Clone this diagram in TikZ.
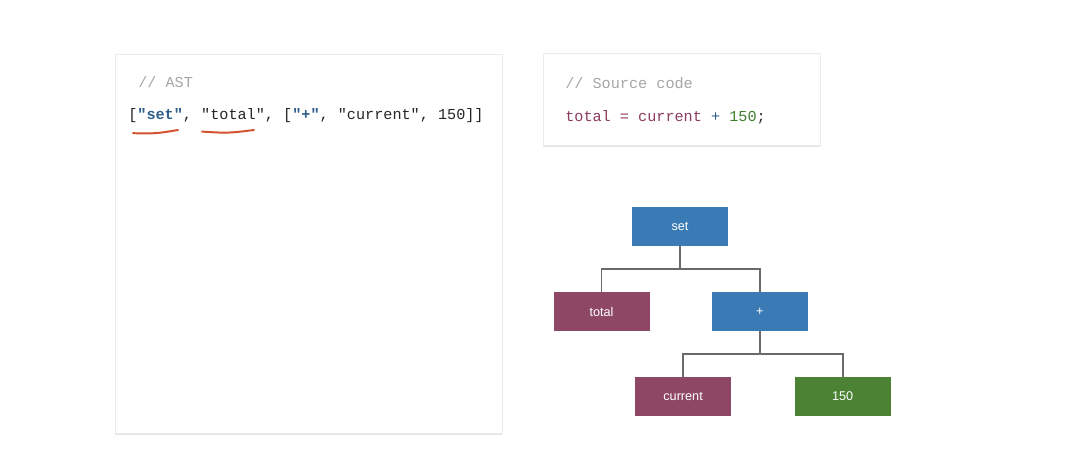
\documentclass[tikz,border=0pt]{standalone}
\usepackage{fontspec}
\setsansfont{Liberation Sans}
\setmonofont{Liberation Mono}
\usepackage{tikz}
\usetikzlibrary{shadows}

\definecolor{astblue}{HTML}{3B7BB5}
\definecolor{astred}{HTML}{8E4866}
\definecolor{astgreen}{HTML}{4B8234}
\definecolor{edgegray}{HTML}{6A6A6A}
\definecolor{kwblue}{HTML}{2E5E8C}
\definecolor{srcred}{HTML}{8C3C5E}
\definecolor{srcgreen}{HTML}{3F7F2E}
\definecolor{markred}{HTML}{D2512E}

\begin{document}
\begin{tikzpicture}[
level distance=2.125cm,
level 1/.style={sibling distance=3.925cm,
  edge from parent path={(\tikzparentnode.south) -- ++(0,-0.56) -| (\tikzchildnode.north)}},
level 2/.style={sibling distance=3.99cm,
  edge from parent path={(\tikzparentnode.south) -- ++(0,-0.575) -| (\tikzchildnode.north)}},
edge from parent/.style={draw=edgegray, line width=1.3pt},
  card/.style = {fill=white, draw=black!8,
    drop shadow={opacity=0.2, shadow xshift=0pt, shadow yshift=-0.05cm}},
  astnode/.style = {minimum width=2.4cm, minimum height=0.975cm,
    inner sep=0pt, text=white,
    font=\sffamily\fontsize{9}{10}\selectfont},
  opnode/.style = {astnode, fill=astblue},
  idnode/.style = {astnode, fill=astred},
  numnode/.style = {astnode, fill=astgreen},
  codetext/.style = {anchor=west, inner sep=0pt,
    font=\ttfamily\fontsize{10.8}{12}\selectfont},
  commenttext/.style = {codetext, text=black!35},
  marker/.style = {markred, line width=1.4pt, line cap=round}]

  \useasboundingbox[fill=white] (0,0) rectangle (27,-11.575);

  % cards
  \node[card, minimum width=9.675cm, minimum height=9.475cm, anchor=north west]
    (astcard) at (2.875,-1.35) {};
  \node[card, minimum width=6.925cm, minimum height=2.3cm, anchor=north west]
    (srccard) at (13.575,-1.325) {};

  % AST as nested arrays
  \node[commenttext] (astcomment) at (3.45,-2.05) {// AST};
  \node[codetext, text=black!85] (astcode) at (3.2,-2.9)
    {[\textcolor{kwblue}{\textbf{"set"}}, "total", [\textcolor{kwblue}{\textbf{"+"}}, "current", 150]]};
  \coordinate (setmarkA) at (3.325,-3.33);
  \coordinate (setmarkB) at (4.45,-3.25);
  \coordinate (totalmarkA) at (5.05,-3.29);
  \coordinate (totalmarkB) at (6.35,-3.25);
  \draw[marker] (setmarkA) .. controls (3.9,-3.34) .. (setmarkB);
  \draw[marker] (totalmarkA) .. controls (5.7,-3.33) .. (totalmarkB);

  % source code
  \node[commenttext] (srccomment) at (14.125,-2.075) {// Source code};
  \node[codetext] (srccode) at (14.125,-2.925)
    {\textcolor{srcred}{total = current} \textcolor{kwblue}{+} \textcolor{srcgreen}{150}\textcolor{black!80}{;}};

  % tree
  \node[opnode] (set) at (17,-5.6625) {set}
    child { node[idnode] (total) {total} }
    child { node[opnode, xshift=0.03cm] (plus) {+}
      child { node[idnode, xshift=0.08cm] (current) {current} }
      child { node[numnode, xshift=0.08cm] (num) {150} }
    };
\end{tikzpicture}
\end{document}
